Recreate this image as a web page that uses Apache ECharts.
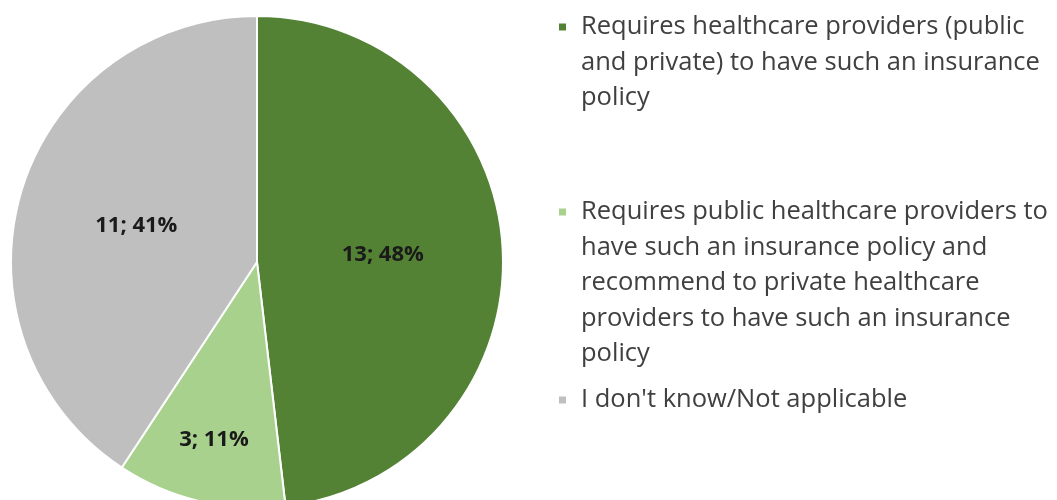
<!DOCTYPE html>
<html>
<head>
<meta charset="utf-8">
<script src="https://cdn.jsdelivr.net/npm/echarts@6/dist/echarts.min.js"></script>
<style>
  html, body { margin: 0; padding: 0; background: #ffffff; }
  #chart { width: 1057px; height: 500px; }
</style>
</head>
<body>
<div id="chart"></div>
<script>
// Survey answers and their counts
const categories = [
  'Requires healthcare providers (public and private) to have such an insurance policy',
  'Requires public healthcare providers to have such an insurance policy and recommend to private healthcare providers to have such an insurance policy',
  "I don't know/Not applicable"
];
const counts = [13, 3, 11];
// Legend text broken into the lines shown beside the pie
const legendLines = [
  ['Requires healthcare providers (public', 'and private) to have such an insurance', 'policy'],
  ['Requires public healthcare providers to', 'have such an insurance policy and', 'recommend to private healthcare', 'providers to have such an insurance', 'policy'],
  ["I don't know/Not applicable"]
];
const colors = ['#548235', '#a9d18e', '#bfbfbf'];

const FONT = 'Open Sans';
const LEGEND_SIZE = 25.5;
const LINE_H = 35.5;
// vertical centre of the first text line of each legend entry
const legendFirstLine = [27, 212, 400];

const chart = echarts.init(document.getElementById('chart'), null, { renderer: 'canvas' });

// Each entry gets its own legend so the gaps can differ. Blank lines are put
// before the text so the (vertically centred) marker sits on the first line.
const legends = categories.map((name, i) => {
  const n = legendLines[i].length;
  const totalLines = 2 * n - 1;
  return {
    show: true,
    orient: 'vertical',
    left: 557,
    top: legendFirstLine[i] - (totalLines * LINE_H) / 2,
    padding: 0,
    itemWidth: 9,
    itemHeight: 9,
    itemGap: 0,
    icon: 'rect',
    selectedMode: false,
    data: [name],
    formatter: () => '\n'.repeat(n - 1) + legendLines[i].join('\n'),
    textStyle: {
      fontFamily: FONT,
      fontSize: LEGEND_SIZE,
      lineHeight: LINE_H,
      color: '#404040',
      padding: [0, 0, 0, 9]
    }
  };
});

chart.setOption({
  backgroundColor: '#ffffff',
  animation: false,
  color: colors,
  legend: legends,
  series: [{
    type: 'pie',
    center: [257, 262],
    radius: 246,
    startAngle: 90,
    clockwise: true,
    percentPrecision: 0,
    avoidLabelOverlap: false,
    itemStyle: { borderColor: '#ffffff', borderWidth: 2 },
    label: {
      show: true,
      position: 'inside',
      formatter: '{c}; {d}%',
      fontFamily: FONT,
      fontWeight: 'bold',
      fontSize: 22,
      color: '#1a1a1a'
    },
    labelLine: { show: false },
    emphasis: { disabled: true },
    data: categories.map((name, i) => {
      const item = { name, value: counts[i] };
      // the small slice carries its label further out towards the rim
      if (i === 1) item.label = { offset: [-14, 55] };
      return item;
    })
  }]
});
</script>
</body>
</html>
